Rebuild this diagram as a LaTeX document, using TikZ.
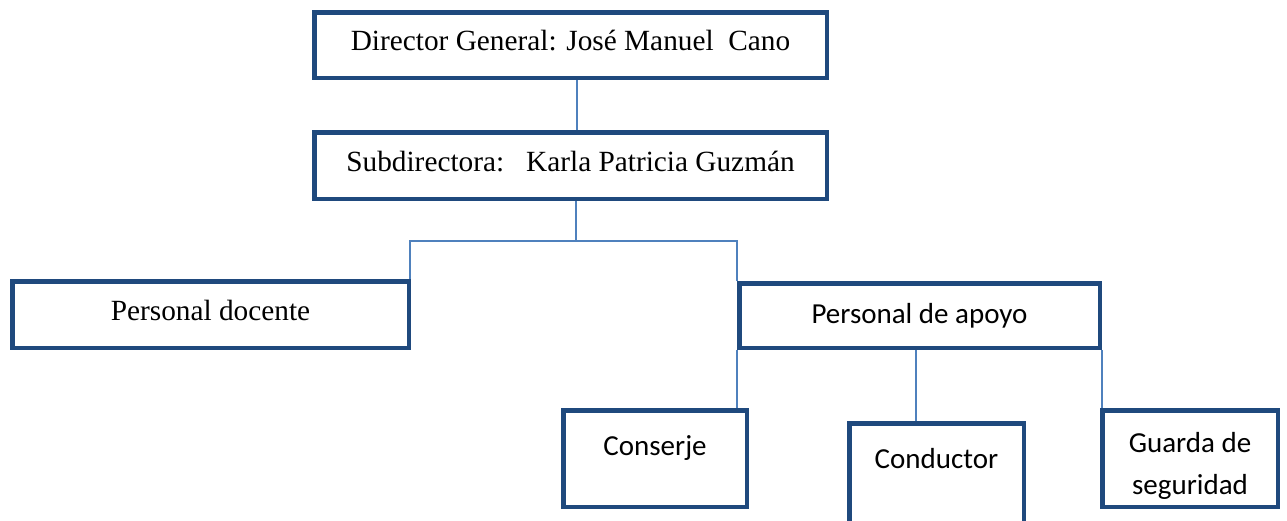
\documentclass[tikz,border=0pt]{standalone}
\usepackage{fontspec}
\setmainfont{Liberation Serif}
\newfontfamily\calibri{Carlito}
\definecolor{boxblue}{RGB}{31,73,125}
\definecolor{linkblue}{RGB}{79,129,189}
\begin{document}
\begin{tikzpicture}[
  x=1pt,
  y=-1pt,
  line join=miter,
  unit/.style={rectangle,draw=boxblue,fill=white,line width=4.5pt,
    inner sep=0pt},
  serifbox/.style={unit,font=\fontsize{29.3}{33}\selectfont,
    text height=20pt,text depth=9pt},
  sansbox/.style={unit,font=\calibri\fontsize{29}{33}\selectfont,
    text height=22pt,text depth=6pt},
  toptext/.style={anchor=north,inner sep=0pt,align=center,
    font=\calibri\fontsize{29}{42}\selectfont},
  link/.style={draw=linkblue,line width=1.3pt}
]
  \useasboundingbox (0,0) rectangle (1287,520);
  \clip (0,0) rectangle (1287,520);

  % Direction.
  \node[serifbox,minimum width=512.5pt,minimum height=65.5pt]
    (dir) at (570.5,45) {Director General: José Manuel\ \ Cano};
  \node[serifbox,minimum width=512.5pt,minimum height=66.5pt]
    (sub) at (570.5,165.5) {Subdirectora:\ \ \ Karla Patricia Guzmán};

  % Staff.
  \node[serifbox,minimum width=396.5pt,minimum height=66.5pt]
    (doc) at (210.5,314.5) {Personal docente};
  \node[sansbox,minimum width=360.5pt,minimum height=64.5pt]
    (apo) at (919.5,315.5) {Personal de apoyo};

  % Support staff.
  \node[unit,minimum width=183.5pt,minimum height=96.5pt,
    label={[toptext,yshift=-27pt]north:Conserje}]
    (con) at (655,458.5) {};
  \node[unit,minimum width=174.5pt,minimum height=114.5pt,
    label={[toptext,yshift=-27pt]north:Conductor}]
    (cdr) at (936.5,480.5) {};
  \node[unit,minimum width=175.5pt,minimum height=96.5pt,
    label={[toptext,yshift=-24pt]north:Guarda de\\seguridad}]
    (gua) at (1190,458.5) {};

  % Connectors.
  \coordinate (bus) at ([xshift=5.5pt]sub.south |- 0,241);
  \draw[link] ([xshift=6.5pt]dir.south) -- ([xshift=6.5pt]sub.north);
  \draw[link] ([xshift=5.5pt]sub.south) -- (bus);
  \draw[link] ([xshift=-1pt]doc.north east) |- (bus) -| (apo.north west);
  \draw[link] (apo.south west) -- (apo.south west |- con.north);
  \draw[link] ([xshift=-3.5pt]apo.south) -- ([xshift=-3.5pt]apo.south |- cdr.north);
  \draw[link] (apo.south east) -- (apo.south east |- gua.north);
\end{tikzpicture}
\end{document}
